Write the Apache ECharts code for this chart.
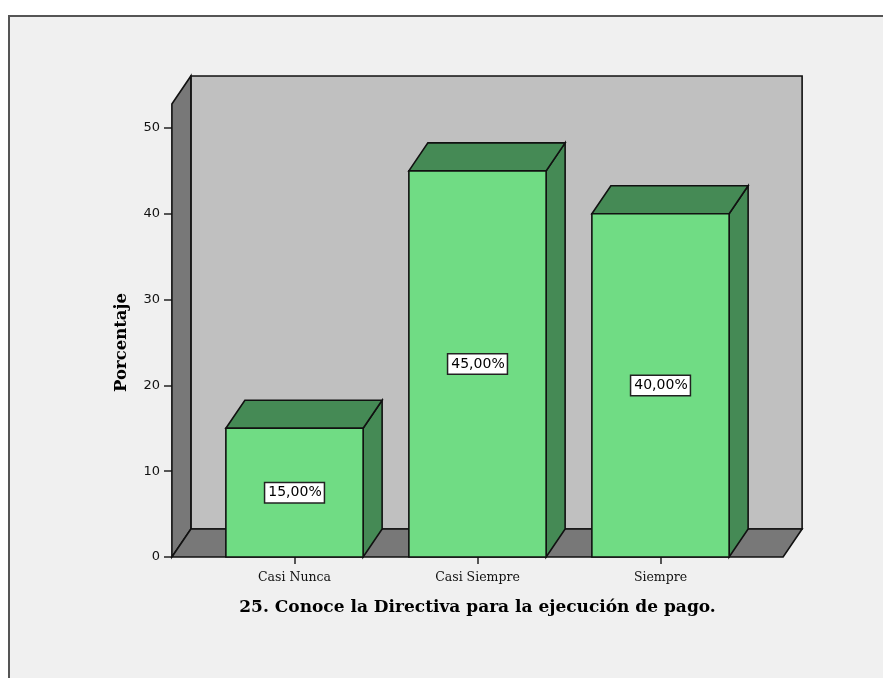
<!DOCTYPE html>
<html>
<head>
<meta charset="utf-8">
<script src="https://cdn.jsdelivr.net/npm/echarts@6/dist/echarts.min.js"></script>
<style>
html,body{margin:0;padding:0;background:#ffffff;}
#c{width:883px;height:678px;}
</style>
</head>
<body>
<div id="c"></div>
<script>
// ---- data ----
const categories = ['Casi Nunca', 'Casi Siempre', 'Siempre'];
const percentValues = [15, 45, 40];
const yTicks = [0, 10, 20, 30, 40, 50];
const xTitle = '25. Conoce la Directiva para la ejecución de pago.';
const yTitle = 'Porcentaje';

// ---- style / layout ----
const WALL_TOP = 52.8;      // value reached by the walls
const SIDE_PAD = 0.17;      // floor extension beyond outer bands (band units)
const BAR_RATIO = 0.75;     // bar width / band width
const DX = 19, DY = -28;    // 3D depth offset (px)
const C = {
  back: '#c0c0c0', side: '#787878', floor: '#787878',
  front: '#70dc84', dark: '#458a55', line: '#111111'
};

const chart = echarts.init(document.getElementById('c'), null, {renderer: 'canvas'});

function poly(points, fill) {
  return {type: 'polygon', shape: {points: points},
    style: {fill: fill, stroke: C.line, lineWidth: 1.6, lineJoin: 'miter'}};
}

const wallSeries = {
  type: 'custom',
  z: 1,
  silent: true,
  data: [[0, 0]],
  renderItem: function (params, api) {
    const band = api.size([1, 0])[0];
    const p0 = api.coord([0, 0]);
    const pN = api.coord([categories.length - 1, 0]);
    const pTop = api.coord([0, WALL_TOP]);
    const xL = p0[0] - band * (0.5 + SIDE_PAD);
    const xR = pN[0] + band * (0.5 + SIDE_PAD);
    const yB = p0[1], yT = pTop[1];
    return {
      type: 'group',
      children: [
        poly([[xL + DX, yT + DY], [xR + DX, yT + DY], [xR + DX, yB + DY], [xL + DX, yB + DY]], C.back),
        poly([[xL, yT], [xL + DX, yT + DY], [xL + DX, yB + DY], [xL, yB]], C.side),
        poly([[xL, yB], [xL + DX, yB + DY], [xR + DX, yB + DY], [xR, yB]], C.floor)
      ]
    };
  }
};

const barSeries = {
  type: 'custom',
  z: 3,
  data: percentValues.map((v, i) => [i, v]),
  renderItem: function (params, api) {
    const i = api.value(0), v = api.value(1);
    const band = api.size([1, 0])[0];
    const w = band * BAR_RATIO;
    const base = api.coord([i, 0]);
    const top = api.coord([i, v]);
    const x0 = base[0] - w / 2, x1 = base[0] + w / 2;
    const yb = base[1], yt = top[1];
    const txt = v.toFixed(2).replace('.', ',') + '%';
    return {
      type: 'group',
      children: [
        poly([[x1, yb], [x1 + DX, yb + DY], [x1 + DX, yt + DY], [x1, yt]], C.dark),
        poly([[x0, yt], [x0 + DX, yt + DY], [x1 + DX, yt + DY], [x1, yt]], C.dark),
        poly([[x0, yt], [x1, yt], [x1, yb], [x0, yb]], C.front),
        {
          type: 'text',
          x: base[0], y: (yt + yb) / 2,
          style: {
            text: txt, fill: '#000', font: '14px "DejaVu Sans"',
            align: 'center', verticalAlign: 'middle',
            backgroundColor: '#ffffff', borderColor: '#222', borderWidth: 1.5,
            padding: [3, 2, 2, 3]
          }
        }
      ]
    };
  }
};

chart.setOption({
  animation: false,
  backgroundColor: '#ffffff',
  graphic: [{
    type: 'rect', z: -10, left: 8, top: 15,
    shape: {width: 900, height: 700},
    style: {fill: '#f0f0f0', stroke: '#555555', lineWidth: 2}
  }],
  grid: {left: 203, right: 131, top: 128, bottom: 121},
  xAxis: {
    type: 'category',
    data: categories,
    boundaryGap: true,
    axisLine: {show: false},
    axisTick: {show: true, alignWithLabel: true, length: 7, lineStyle: {color: '#222', width: 1.5}},
    axisLabel: {margin: 14, color: '#111', fontFamily: 'DejaVu Serif', fontSize: 12.5},
    splitLine: {show: false},
    name: xTitle,
    nameLocation: 'middle',
    nameGap: 42,
    nameTextStyle: {fontFamily: 'DejaVu Serif', fontWeight: 'bold', fontSize: 17, color: '#000'}
  },
  yAxis: {
    type: 'value',
    min: yTicks[0], max: yTicks[yTicks.length - 1], interval: 10,
    offset: 31,
    axisLine: {show: false},
    axisTick: {show: true, length: 8, lineStyle: {color: '#222', width: 1.5}},
    axisLabel: {margin: 12, color: '#111', fontFamily: 'DejaVu Sans', fontSize: 13},
    splitLine: {show: false},
    name: yTitle,
    nameLocation: 'middle',
    nameGap: 42,
    nameTextStyle: {fontFamily: 'DejaVu Serif', fontWeight: 'bold', fontSize: 16.5, color: '#000'}
  },
  series: [wallSeries, barSeries]
});
</script>
</body>
</html>
